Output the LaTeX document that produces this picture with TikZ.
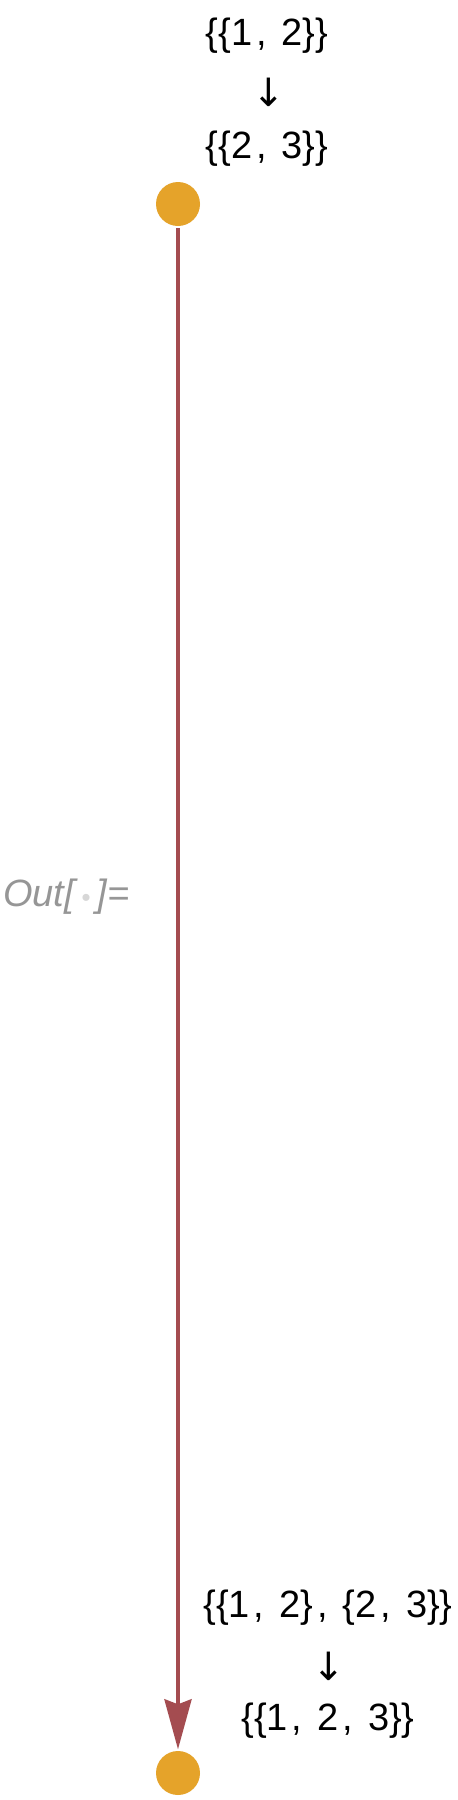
\documentclass[tikz,border=0pt]{standalone}
\usepackage{fontspec}
\setmainfont{Liberation Sans}
\newfontfamily\arrfont{DejaVu Sans}
\usetikzlibrary{arrows.meta}
\definecolor{vcol}{RGB}{229,163,42}
\definecolor{ecol}{RGB}{164,76,80}
\definecolor{outgray}{RGB}{150,150,150}
\definecolor{dotgray}{RGB}{215,215,215}
\newcommand\cmsep{\hspace{4pt},\hspace{15pt}}
\tikzset{
  vert/.style={circle,fill=vcol,draw=none,minimum size=44pt,inner sep=0pt},
  edge/.style={draw=ecol,line width=4pt,-{Stealth[length=50pt,width=27pt,inset=5pt]}},
  lbl/.style={font=\fontsize{38}{40}\selectfont,inner sep=0pt,anchor=base},
  arr/.style={font=\arrfont\fontsize{39}{39}\selectfont,inner sep=0pt,anchor=center},
}
\begin{document}
\begin{tikzpicture}[x=1pt,y=-1pt]
\useasboundingbox[fill=white] (0,0) rectangle (458,1800);
\node[vert] (a) at (178,204) {};
\node[vert] (b) at (178,1773) {};
\draw[edge,shorten <=2pt,shorten >=1.5pt] (a) -- (b);
\node[lbl] (t1) at (267,45) {\{\{1\cmsep 2\}\}};
\node[arr] (t2) at (269,92) {↓};
\node[lbl] (t3) at (267,158) {\{\{2\cmsep 3\}\}};
\node[lbl] (b1) at (328,1617) {\{\{1\cmsep 2\}\cmsep \{2\cmsep 3\}\}};
\node[arr] (b2) at (329,1666) {↓};
\node[lbl] (b3) at (328,1730) {\{\{1\cmsep 2\cmsep 3\}\}};
\node[font=\fontsize{38}{40}\selectfont\itshape,text=outgray,inner sep=0pt,anchor=west] (out) at (3,897) {Out[\,{\color{dotgray}\fontsize{26}{26}\selectfont •}\,]=};
\end{tikzpicture}
\end{document}
